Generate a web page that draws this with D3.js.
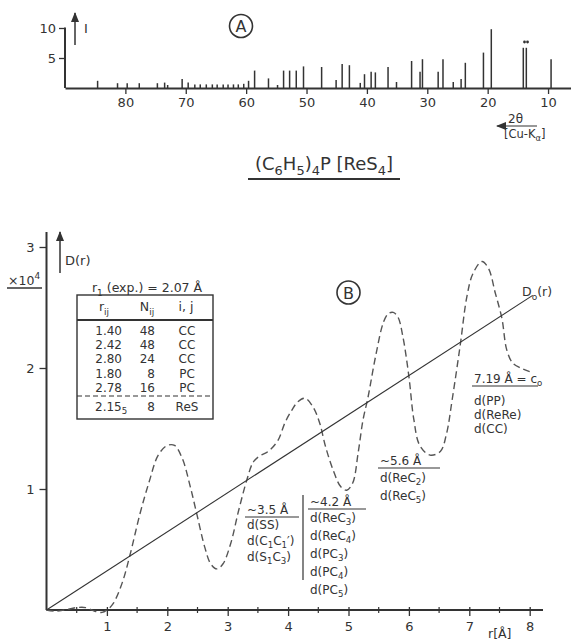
<!DOCTYPE html>
<html><head><meta charset="utf-8">
<script src="https://cdn.jsdelivr.net/npm/d3@7"></script>
<style>
html,body{margin:0;padding:0;background:#fff;}
svg text{font-family:"DejaVu Sans","Liberation Sans",sans-serif;fill:#333;}
</style></head>
<body>
<svg id="c" width="571" height="642"></svg>
<script>
// ---------- DATA ----------
// Panel A: X-ray powder pattern, 2θ (deg) and relative intensity
const xrdTheta = [84.6,81.3,79.7,77.7,74.7,73.5,73.0,70.6,69.6,68.5,67.6,66.6,65.6,64.8,63.8,63.0,62.1,61.3,60.4,59.6,
  58.6,56.3,54.8,53.8,52.8,51.7,50.5,47.5,45.1,44.1,42.9,41.1,40.4,39.3,38.6,36.5,35.1,32.6,31.2,30.8,28.2,27.4,25.7,24.4,23.7,20.7,19.4,14.1,13.6,9.5];
const xrdI = [1.2,0.8,0.8,0.8,0.8,0.9,0.5,1.5,0.9,0.6,0.6,0.6,0.6,0.6,0.6,0.6,0.6,0.6,0.7,1.2,
  2.9,1.6,0.5,2.9,2.9,2.9,3.6,3.5,1.35,4.0,3.8,0.85,2.3,2.7,2.6,3.5,1.0,4.5,2.7,4.8,2.7,4.8,1.0,1.5,4.2,5.9,9.8,6.7,6.7,4.8];
const xrdTicks = [80,70,60,50,40,30,20,10];
const xrdYTicks = [5,10];
// Panel B: radial distribution D(r) (×10^4) and D0(r)
const rVals = [0,0.15,0.3,0.5,0.65,0.8,0.92,1.0,1.1,1.25,1.38,1.55,1.7,1.85,2.0,2.12,2.25,2.38,2.49,2.62,2.72,2.82,2.92,3.05,3.18,3.32,3.42,3.52,3.67,3.83,3.95,4.06,4.16,4.28,4.41,4.52,4.62,4.75,4.87,4.97,5.07,5.16,5.24,5.32,5.45,5.58,5.66,5.74,5.82,5.9,6.0,6.08,6.18,6.35,6.52,6.62,6.72,6.85,6.96,7.06,7.21,7.32,7.43,7.54,7.62,7.72,7.85,8.0];
const dVals = [0,-0.01,0.0,0.02,0.02,-0.01,-0.02,0.0,0.05,0.22,0.45,0.8,1.06,1.28,1.36,1.36,1.25,1.02,0.79,0.52,0.38,0.34,0.38,0.55,0.82,1.08,1.22,1.27,1.31,1.40,1.55,1.65,1.72,1.75,1.68,1.55,1.35,1.15,1.02,0.99,1.05,1.3,1.57,1.75,2.1,2.38,2.45,2.46,2.42,2.26,1.93,1.58,1.36,1.28,1.31,1.45,1.75,2.19,2.59,2.78,2.88,2.82,2.62,2.41,2.15,2.04,2.0,1.97];
const d0R = [0,8.05];
const d0D = [0,2.6];
const rTicks = [1,2,3,4,5,6,7,8];
const rMinor = [0.5,1.5,2.5,3.5,4.5,5.5,6.5,7.5];
const dTicks = [1,2,3];
// Table
const tabR = ["1.40","2.42","2.80","1.80","2.78","2.15"];
const tabN = ["48","48","24","8","16","8"];
const tabIJ = ["CC","CC","CC","PC","PC","ReS"];

// ---------- HELPERS ----------
const svg = d3.select("#c");
const ink = "#333";
function rich(g, x, y, str, size, anchor) {
  const t = g.append("text").attr("x", x).attr("y", y).attr("font-size", size)
    .attr("text-anchor", anchor || "start");
  let cur = 0, i = 0, buf = "";
  const flush = () => { if (buf) { t.append("tspan").attr("dy", -cur).text(buf); cur = 0; buf = ""; } };
  while (i < str.length) {
    const ch = str[i];
    if (ch === "_" || ch === "^") {
      flush();
      const target = ch === "_" ? size * 0.28 : -size * 0.45;
      t.append("tspan").attr("dy", target - cur).attr("font-size", size * 0.72).text(str[i + 1]);
      cur = target; i += 2;
      if (i < str.length && str[i] !== "_" && str[i] !== "^") {
        let s = ""; while (i < str.length && str[i] !== "_" && str[i] !== "^") { s += str[i]; i++; }
        t.append("tspan").attr("dy", -cur).text(s); cur = 0;
      }
      continue;
    }
    buf += ch; i++;
  }
  flush();
  return t;
}
svg.append("defs").append("marker").attr("id", "ah").attr("viewBox", "0 0 10 10")
  .attr("refX", 9).attr("refY", 5).attr("markerWidth", 10).attr("markerHeight", 10)
  .attr("markerUnits", "userSpaceOnUse").attr("orient", "auto")
  .append("path").attr("d", "M0,1 L10,5 L0,9 Z").attr("fill", ink);

// ---------- PANEL A ----------
const xA = d3.scaleLinear().domain([90, 6.2]).range([65, 571]);
const yA = d3.scaleLinear().domain([0, 10]).range([88, 28]);
const gA = svg.append("g");
gA.selectAll("line.pk").data(xrdTheta).join("line")
  .attr("x1", d => xA(d)).attr("x2", d => xA(d))
  .attr("y1", yA(0)).attr("y2", (d, i) => yA(xrdI[i]))
  .attr("stroke", ink).attr("stroke-width", 1.5);
const axA = gA.append("g").attr("transform", `translate(0,${yA(0)})`)
  .call(d3.axisBottom(xA).tickValues(xrdTicks).tickFormat(d3.format("d")).tickSizeInner(6).tickSizeOuter(0).tickPadding(4));
axA.select(".domain").attr("stroke", ink).attr("stroke-width", 2);
axA.selectAll(".tick line").attr("stroke", ink).attr("stroke-width", 1.3);
axA.selectAll(".tick text").attr("font-size", 13).attr("fill", ink).attr("font-family", "DejaVu Sans");
const ayA = gA.append("g").attr("transform", `translate(65,0)`)
  .call(d3.axisLeft(yA).tickValues(xrdYTicks).tickFormat(d3.format("d")).tickSizeInner(6).tickSizeOuter(0).tickPadding(3));
ayA.select(".domain").attr("stroke", ink).attr("stroke-width", 2).attr("d", `M0,${yA(0)}V${yA(10.1)}`);
ayA.selectAll(".tick line").attr("stroke", ink).attr("stroke-width", 1.3);
ayA.selectAll(".tick text").attr("font-size", 13).attr("fill", ink).attr("font-family", "DejaVu Sans");
gA.append("line").attr("x1", 75).attr("x2", 75).attr("y1", 45).attr("y2", 13)
  .attr("stroke", ink).attr("stroke-width", 1.5).attr("marker-end", "url(#ah)");
gA.append("text").attr("x", 84).attr("y", 33).attr("font-size", 13).attr("font-family", "DejaVu Serif").text("I");
gA.append("circle").attr("cx", 241).attr("cy", 26).attr("r", 11.5).attr("fill", "none").attr("stroke", ink).attr("stroke-width", 1.6);
gA.append("text").attr("x", 241).attr("y", 32).attr("text-anchor", "middle").attr("font-size", 16).text("A");
gA.selectAll("circle.dt").data([13.9, 13.4]).join("circle")
  .attr("cx", d => xA(d)).attr("cy", 42).attr("r", 1.4).attr("fill", ink);
gA.append("line").attr("x1", 537).attr("x2", 497).attr("y1", 126).attr("y2", 126)
  .attr("stroke", ink).attr("stroke-width", 1.2).attr("marker-end", "url(#ah)");
gA.append("text").attr("x", 508).attr("y", 123).attr("font-size", 12).text("2θ");
rich(gA, 504, 138, "[Cu-K_α]", 11.5);

// Title
rich(svg, 324, 170, "(C_6H_5)_4P [ReS_4]", 18, "middle");
svg.append("line").attr("x1", 248).attr("x2", 400).attr("y1", 179).attr("y2", 179).attr("stroke", ink).attr("stroke-width", 2.2);

// ---------- PANEL B ----------
const xB = d3.scaleLinear().domain([0, 8]).range([46.5, 529.7]);
const yB = d3.scaleLinear().domain([0, 3]).range([610, 247]);
const gB = svg.append("g");
gB.append("line").attr("x1", xB(0)).attr("x2", 543).attr("y1", yB(0)).attr("y2", yB(0)).attr("stroke", ink).attr("stroke-width", 2);
const axB = gB.append("g").attr("transform", `translate(0,${yB(0)})`)
  .call(d3.axisBottom(xB).tickValues(rTicks).tickFormat(d3.format("d")).tickSizeInner(6).tickSizeOuter(0).tickPadding(6));
axB.select(".domain").remove();
axB.selectAll(".tick line").attr("stroke", ink).attr("stroke-width", 1.3).attr("y1", -3);
axB.selectAll(".tick text").attr("font-size", 13).attr("fill", ink).attr("font-family", "DejaVu Sans");
gB.selectAll("line.mn").data(rMinor).join("line")
  .attr("x1", d => xB(d)).attr("x2", d => xB(d)).attr("y1", yB(0) - 3).attr("y2", yB(0) + 3)
  .attr("stroke", ink).attr("stroke-width", 1.2);
const ayB = gB.append("g").attr("transform", `translate(${xB(0)},0)`)
  .call(d3.axisLeft(yB).tickValues(dTicks).tickFormat(d3.format("d")).tickSizeInner(7).tickSizeOuter(0).tickPadding(5));
ayB.select(".domain").attr("stroke", ink).attr("stroke-width", 2).attr("d", `M0,${yB(0)}V232`);
ayB.selectAll(".tick line").attr("stroke", ink).attr("stroke-width", 1.3);
ayB.selectAll(".tick text").attr("font-size", 13).attr("fill", ink).attr("font-family", "DejaVu Sans");
gB.append("text").attr("x", 488).attr("y", 638).attr("font-size", 12.5).text("r[Å]");
gB.append("line").attr("x1", 60).attr("x2", 60).attr("y1", 273).attr("y2", 232)
  .attr("stroke", ink).attr("stroke-width", 1.5).attr("marker-end", "url(#ah)");
gB.append("text").attr("x", 65).attr("y", 265).attr("font-size", 13).text("D(r)");
rich(gB, 8, 285, "×10^4", 12.5);
gB.append("line").attr("x1", 7).attr("x2", 42).attr("y1", 288).attr("y2", 288).attr("stroke", ink).attr("stroke-width", 1.4);

const pts = rVals.map((r, i) => [r, dVals[i]]);
gB.append("path").datum(pts)
  .attr("d", d3.line().x(d => xB(d[0])).y(d => yB(d[1])).curve(d3.curveCatmullRom.alpha(0.5)))
  .attr("fill", "none").attr("stroke", "#555").attr("stroke-width", 1.4).attr("stroke-dasharray", "7,4");
gB.append("path").datum(d0R.map((r, i) => [r, d0D[i]]))
  .attr("d", d3.line().x(d => xB(d[0])).y(d => yB(d[1])))
  .attr("fill", "none").attr("stroke", ink).attr("stroke-width", 1.1);
rich(gB, 522, 296, "D_o(r)", 12.5);

gB.append("circle").attr("cx", 348.5).attr("cy", 292.5).attr("r", 11.5).attr("fill", "none").attr("stroke", ink).attr("stroke-width", 1.6);
gB.append("text").attr("x", 348.5).attr("y", 298.5).attr("text-anchor", "middle").attr("font-size", 16).text("B");

// table
rich(gB, 147, 292, "r_1 (exp.) = 2.07 Å", 12.5, "middle");
gB.append("rect").attr("x", 77).attr("y", 295).attr("width", 136).attr("height", 124)
  .attr("fill", "none").attr("stroke", ink).attr("stroke-width", 1.4);
rich(gB, 104, 311, "r_i_j", 12.5, "middle");
rich(gB, 147, 311, "N_i_j", 12.5, "middle");
gB.append("text").attr("x", 186).attr("y", 311).attr("font-size", 12.5).attr("text-anchor", "middle").text("i, j");
gB.append("line").attr("x1", 77).attr("x2", 213).attr("y1", 320).attr("y2", 320).attr("stroke", ink).attr("stroke-width", 2);
gB.append("line").attr("x1", 77).attr("x2", 213).attr("y1", 396).attr("y2", 396).attr("stroke", ink).attr("stroke-width", 1.2).attr("stroke-dasharray", "5,3");
const rowY = [335, 349.2, 363.4, 377.6, 391.8, 411];
const tf = 12;
tabR.forEach((s, i) => {
  if (i === 5) rich(gB, 95, rowY[i], s + "_5", tf);
  else gB.append("text").attr("x", 122).attr("y", rowY[i]).attr("text-anchor", "end").attr("font-size", tf).text(s);
  gB.append("text").attr("x", 155).attr("y", rowY[i]).attr("text-anchor", "end").attr("font-size", tf).text(tabN[i]);
  gB.append("text").attr("x", 187).attr("y", rowY[i]).attr("text-anchor", "middle").attr("font-size", tf).text(tabIJ[i]);
});

// annotations
function annot(x, y0, head, lines, first, step, ulw) {
  rich(gB, x, y0, head, 12);
  gB.append("line").attr("x1", x - 2).attr("x2", x - 2 + ulw).attr("y1", y0 + 3).attr("y2", y0 + 3).attr("stroke", ink).attr("stroke-width", 1.2);
  lines.forEach((l, i) => rich(gB, x, y0 + first + i * step, l, 12));
}
annot(474, 383, "7.19 Å = c_o", ["d(PP)", "d(ReRe)", "d(CC)"], 22, 14, 66);
annot(380, 465, "~5.6 Å", ["d(ReC_2)", "d(ReC_5)"], 17, 18, 62);
annot(310, 506, "~4.2 Å", ["d(ReC_3)", "d(ReC_4)", "d(PC_3)", "d(PC_4)", "d(PC_5)"], 16, 18, 58);
annot(247, 514, "~3.5 Å", ["d(SS)", "d(C_1C_1′)", "d(S_1C_3)"], 15, 16, 54);
gB.append("line").attr("x1", 303).attr("x2", 303).attr("y1", 495).attr("y2", 580).attr("stroke", ink).attr("stroke-width", 1.2);
</script>
</body></html>
